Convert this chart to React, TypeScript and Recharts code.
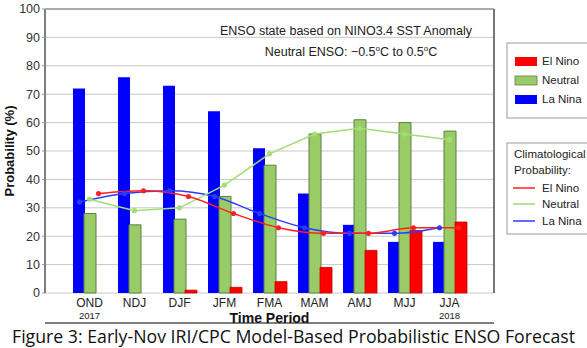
import React from 'react';
import { ComposedChart, Bar, Line, XAxis, YAxis, CartesianGrid } from 'recharts';

const categories = ['OND', 'NDJ', 'DJF', 'JFM', 'FMA', 'MAM', 'AMJ', 'MJJ', 'JJA'];
const yearLabels = ['2017', '', '', '', '', '', '', '', '2018'];
const laNina = [72, 76, 73, 64, 51, 35, 24, 18, 18];
const neutral = [28, 24, 26, 34, 45, 56, 61, 60, 57];
const elNino = [0, 0, 1, 2, 4, 9, 15, 22, 25];
const climElNino = [35, 36, 34, 28, 23, 21, 21, 23, 23];
const climNeutral = [33, 29, 30, 38, 49, 56, 58, 56, 54];
const climLaNina = [32, 35, 36, 34, 28, 23, 21, 21, 23];
const yTicks = [0, 10, 20, 30, 40, 50, 60, 70, 80, 90, 100];

const data = categories.map((c, i) => ({
  cat: c,
  laNina: laNina[i],
  neutral: neutral[i],
  elNino: elNino[i],
  climElNino: climElNino[i],
  climNeutral: climNeutral[i],
  climLaNina: climLaNina[i],
}));

const FONT = '"Liberation Sans", Arial, sans-serif';
const W = 587;
const H = 348;
const PL = 45;
const PR = 494;
const PT = 9;
const PB = 293;

const XTick = (props: any) => {
  const { x, payload } = props;
  const idx = categories.indexOf(payload.value);
  const yr = idx >= 0 ? yearLabels[idx] : '';
  return (
    <g>
      <text x={x} y={PB + 14} textAnchor="middle" fontSize={12} fill="#222" fontFamily={FONT}>
        {payload.value}
      </text>
      {yr ? (
        <text x={x} y={PB + 26} textAnchor="middle" fontSize={9.5} fill="#222" fontFamily={FONT}>
          {yr}
        </text>
      ) : null}
    </g>
  );
};

export default function App() {
  return (
    <div style={{ position: 'absolute', left: 0, top: 0, width: W, height: H, background: '#fff' }}>
      <ComposedChart
        width={W}
        height={H}
        data={data}
        margin={{ top: PT, right: W - PR, bottom: 0, left: 0 }}
        barGap={-1}
      >
        <CartesianGrid horizontal vertical={false} stroke="#c8c8c8" strokeWidth={1} />
        <XAxis
          xAxisId="main"
          dataKey="cat"
          type="category"
          height={H - PB}
          padding={{ left: 22, right: 22 }}
          axisLine={{ stroke: '#555', strokeWidth: 1.5 }}
          tickLine={false}
          tickSize={0}
          tick={<XTick />}
          interval={0}
        />
        <XAxis xAxisId="left" dataKey="cat" type="category" hide padding={{ left: 12, right: 32 }} />
        <XAxis xAxisId="right" dataKey="cat" type="category" hide padding={{ left: 31, right: 13 }} />
        <YAxis
          domain={[0, 100]}
          ticks={yTicks}
          width={PL}
          axisLine={{ stroke: '#555', strokeWidth: 1.5 }}
          tickLine={{ stroke: '#999' }}
          tickSize={3}
          tickMargin={2}
          tick={{ fontSize: 12.5, fill: '#333', fontFamily: FONT }}
          interval={0}
        />
        <Bar xAxisId="main" dataKey="laNina" fill="#0000ff" barSize={12} isAnimationActive={false} />
        <Bar xAxisId="main" dataKey="neutral" fill="#99cc66" stroke="#5f7f45" strokeWidth={1} barSize={12} isAnimationActive={false} />
        <Bar xAxisId="main" dataKey="elNino" fill="#ff0000" stroke="#c00000" strokeWidth={0.8} barSize={12} isAnimationActive={false} />
        <Line
          xAxisId="left"
          dataKey="climLaNina"
          type="monotone"
          stroke="#2a3cff"
          strokeWidth={1.5}
          dot={{ r: 1.8, fill: '#2a3cff', stroke: '#2a3cff' }}
          isAnimationActive={false}
        />
        <Line
          xAxisId="main"
          dataKey="climNeutral"
          type="linear"
          stroke="#a3dd75"
          strokeWidth={1.5}
          dot={{ r: 1.8, fill: '#a3dd75', stroke: '#a3dd75' }}
          isAnimationActive={false}
        />
        <Line
          xAxisId="right"
          dataKey="climElNino"
          type="monotone"
          stroke="#ff2020"
          strokeWidth={1.5}
          dot={{ r: 1.8, fill: '#ff2020', stroke: '#ff2020' }}
          isAnimationActive={false}
        />
      </ComposedChart>
      <svg
        width={W}
        height={H}
        style={{ position: 'absolute', left: 0, top: 0, pointerEvents: 'none' }}
        fontFamily={FONT}
      >
        <line x1={PL} y1={PT} x2={PR} y2={PT} stroke="#999" strokeWidth={1.5} />
        <line x1={PR} y1={PT} x2={PR} y2={PB} stroke="#777" strokeWidth={2} />
        <text x={346} y={35} textAnchor="middle" fontSize={12.5} fill="#222">
          ENSO state based on NINO3.4 SST Anomaly
        </text>
        <text x={351} y={56} textAnchor="middle" fontSize={12.5} fill="#222">
          Neutral ENSO: −0.5<tspan fontSize={8} dy={-5}>o</tspan>
          <tspan dy={5}>C to 0.5</tspan>
          <tspan fontSize={8} dy={-5}>o</tspan>
          <tspan dy={5}>C</tspan>
        </text>
        <text
          x={0}
          y={0}
          transform={`translate(14, ${(PT + PB) / 2}) rotate(-90)`}
          textAnchor="middle"
          fontSize={13}
          fontWeight="bold"
          fill="#111"
        >
          Probability (%)
        </text>
        <text x={(PL + PR) / 2} y={323} textAnchor="middle" fontSize={14} fontWeight="bold" fill="#111">
          Time Period
        </text>
        <text
          x={12}
          y={343}
          fontSize={17.5}
          fill="#111"
          fontFamily='"Open Sans", "Noto Sans", sans-serif'
          textLength={563}
          lengthAdjust="spacingAndGlyphs"
        >
          Figure 3: Early-Nov IRI/CPC Model-Based Probabilistic ENSO Forecast
        </text>

        <rect x={507} y={43} width={82} height={75} fill="#fff" stroke="#999" strokeWidth={1} />
        <rect x={515} y={57} width={22} height={9} fill="#ff0000" />
        <text x={542} y={65} fontSize={11.5} fill="#222">El Nino</text>
        <rect x={515} y={76} width={22} height={9} fill="#99cc66" stroke="#5f7f45" strokeWidth={0.8} />
        <text x={542} y={84} fontSize={11.5} fill="#222">Neutral</text>
        <rect x={515} y={95} width={22} height={9} fill="#0000ff" />
        <text x={542} y={103} fontSize={11.5} fill="#222">La Nina</text>

        <rect x={507} y={143} width={82} height={91} fill="#fff" stroke="#999" strokeWidth={1} />
        <text x={514} y={158} fontSize={11.5} fill="#222">Climatological</text>
        <text x={514} y={174} fontSize={11.5} fill="#222">Probability:</text>
        <line x1={513} y1={188} x2={535} y2={188} stroke="#ff2020" strokeWidth={1.5} />
        <text x={542} y={192} fontSize={11.5} fill="#222">El Nino</text>
        <line x1={513} y1={204} x2={535} y2={204} stroke="#a3dd75" strokeWidth={1.5} />
        <text x={542} y={208} fontSize={11.5} fill="#222">Neutral</text>
        <line x1={513} y1={221} x2={535} y2={221} stroke="#2a3cff" strokeWidth={1.5} />
        <text x={542} y={225} fontSize={11.5} fill="#222">La Nina</text>
      </svg>
    </div>
  );
}
